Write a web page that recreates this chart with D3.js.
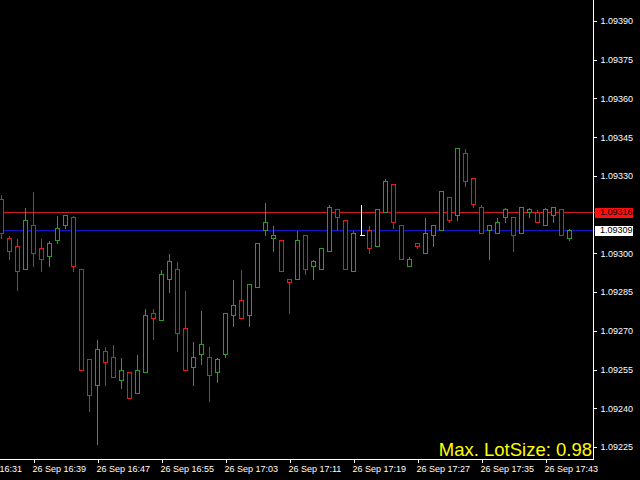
<!DOCTYPE html>
<html>
<head>
<meta charset="utf-8">
<script src="https://cdn.jsdelivr.net/npm/d3@7"></script>
<style>
  html, body { margin: 0; padding: 0; background: #000; }
  svg { display: block; }
  text { font-family: "Liberation Sans", Arial, sans-serif; }
</style>
</head>
<body>
<svg id="chart" width="640" height="480"></svg>
<script>
// ---- data (M1 bars, 26 Sep 16:35 .. 17:46) ----
const barTimes = ["16:35","16:36","16:37","16:38","16:39","16:40","16:41","16:42","16:43","16:44",
  "16:45","16:46","16:47","16:48","16:49","16:50","16:51","16:52","16:53","16:54",
  "16:55","16:56","16:57","16:58","16:59","17:00","17:01","17:02","17:03","17:04",
  "17:05","17:06","17:07","17:08","17:09","17:10","17:11","17:12","17:13","17:14",
  "17:15","17:16","17:17","17:18","17:19","17:20","17:21","17:22","17:23","17:24",
  "17:25","17:26","17:27","17:28","17:29","17:30","17:31","17:32","17:33","17:34",
  "17:35","17:36","17:37","17:38","17:39","17:40","17:41","17:42","17:43","17:44",
  "17:45","17:46"];
const openP = [1.09321,1.09306,1.09303,1.09294,1.09311,1.09302,1.09299,1.09305,1.09311,1.09314,
  1.09294,1.09259,1.09249,1.09262,1.09260,1.09251,1.09254,1.09246,1.09254,1.09277,
  1.09274,1.09290,1.09294,1.09271,1.09256,1.09261,1.09260,1.09254,1.09261,1.09276,
  1.09282,1.09276,1.09287,1.09309,1.09306,1.09305,1.09290,1.09290,1.09307,1.09295,
  1.09294,1.09301,1.09317,1.09313,1.09293,1.09307,1.09309,1.09303,1.09316,1.09327,
  1.09311,1.09295,1.09304,1.09300,1.09307,1.09309,1.09322,1.09315,1.09339,1.09329,
  1.09318,1.09309,1.09308,1.09314,1.09314,1.09308,1.09316,1.09316,1.09311,1.09315,
  1.09317,1.09306];
const highP = [1.09323,1.09307,1.09306,1.09318,1.09324,1.09306,1.09305,1.09315,1.09315,1.09315,
  1.09294,1.09259,1.09267,1.09264,1.09265,1.09260,1.09254,1.09261,1.09279,1.09279,
  1.09294,1.09300,1.09297,1.09286,1.09266,1.09278,1.09264,1.09260,1.09277,1.09290,
  1.09294,1.09288,1.09304,1.09320,1.09311,1.09305,1.09290,1.09309,1.09307,1.09298,
  1.09302,1.09319,1.09317,1.09313,1.09309,1.09319,1.09311,1.09317,1.09329,1.09327,
  1.09311,1.09299,1.09304,1.09314,1.09311,1.09324,1.09322,1.09341,1.09341,1.09329,
  1.09319,1.09311,1.09314,1.09318,1.09314,1.09318,1.09318,1.09317,1.09318,1.09318,
  1.09317,1.09310];
const lowP = [1.09306,1.09298,1.09286,1.09294,1.09295,1.09293,1.09295,1.09304,1.09310,1.09293,
  1.09255,1.09239,1.09226,1.09249,1.09252,1.09248,1.09244,1.09246,1.09254,1.09267,
  1.09274,1.09285,1.09262,1.09255,1.09249,1.09257,1.09243,1.09250,1.09260,1.09272,
  1.09275,1.09272,1.09287,1.09307,1.09301,1.09293,1.09277,1.09290,1.09292,1.09290,
  1.09294,1.09301,1.09309,1.09294,1.09293,1.09307,1.09300,1.09303,1.09316,1.09310,
  1.09298,1.09295,1.09302,1.09300,1.09303,1.09309,1.09312,1.09313,1.09326,1.09318,
  1.09308,1.09298,1.09308,1.09312,1.09301,1.09308,1.09314,1.09312,1.09311,1.09312,
  1.09307,1.09305];
const closeP = [1.09308,1.09301,1.09293,1.09313,1.09300,1.09298,1.09304,1.09310,1.09315,1.09295,
  1.09255,1.09245,1.09263,1.09258,1.09252,1.09255,1.09244,1.09255,1.09276,1.09275,
  1.09292,1.09297,1.09269,1.09255,1.09260,1.09265,1.09253,1.09259,1.09277,1.09280,
  1.09275,1.09288,1.09304,1.09312,1.09307,1.09293,1.09289,1.09305,1.09294,1.09297,
  1.09302,1.09318,1.09314,1.09294,1.09308,1.09307,1.09302,1.09317,1.09328,1.09312,
  1.09298,1.09298,1.09303,1.09308,1.09311,1.09324,1.09313,1.09341,1.09328,1.09319,
  1.09308,1.09311,1.09312,1.09317,1.09307,1.09318,1.09317,1.09312,1.09317,1.09318,
  1.09307,1.09309];

// 1.09315 sits under the red price box in the reference, so it is not listed
const priceTicks = [1.09225,1.09240,1.09255,1.09270,1.09285,1.09300,1.09330,1.09345,1.09360,1.09375,1.09390];
const timeTickIdx = [-4, 4, 12, 20, 28, 36, 44, 52, 60, 68];
const timeTickLabels = ["26 Sep 16:31","26 Sep 16:39","26 Sep 16:47","26 Sep 16:55","26 Sep 17:03",
  "26 Sep 17:11","26 Sep 17:19","26 Sep 17:27","26 Sep 17:35","26 Sep 17:43"];
const redLevel = 1.09316;
const bidLevel = 1.09309;
const infoText = "Max. LotSize: 0.98";

// ---- layout ----
const W = 640, H = 480;
const plotRight = 593.5, plotBottom = 459.5;
const bullColor = "#2c9a2c", bearColor = "#e31b1b", dojiColor = "#ffffff";

const svg = d3.select("#chart");
svg.append("rect").attr("width", W).attr("height", H).attr("fill", "#000");

const x = d3.scaleLinear().domain([0, barTimes.length - 1]).range([1.5, 1.5 + 8 * (barTimes.length - 1)]);
const y = d3.scaleLinear().domain([1.09225, 1.09390]).range([447, 21]);
const yc = v => Math.round(y(v)) + 0.5;

const bars = barTimes.map((t, i) => ({ t, i, o: openP[i], h: highP[i], l: lowP[i], c: closeP[i] }));
const colorOf = d => d.c > d.o ? bullColor : (d.c < d.o ? bearColor : dojiColor);

const plot = svg.append("g").attr("shape-rendering", "crispEdges");

// horizontal level lines
plot.append("line").attr("x1", 0).attr("x2", plotRight + 2).attr("y1", yc(redLevel)).attr("y2", yc(redLevel))
  .attr("stroke", "#c81e1e").attr("stroke-width", 1);
plot.append("line").attr("x1", 0).attr("x2", plotRight + 2).attr("y1", yc(bidLevel)).attr("y2", yc(bidLevel))
  .attr("stroke", "#1414c8").attr("stroke-width", 1);

// candles
const g = plot.selectAll("g.bar").data(bars).join("g").attr("class", "bar");
g.append("line")
  .attr("x1", d => x(d.i)).attr("x2", d => x(d.i))
  .attr("y1", d => yc(d.h)).attr("y2", d => yc(d.l) + 0.5)
  .attr("stroke", colorOf);
g.filter(d => d.o !== d.c).append("rect")
  .attr("x", d => x(d.i) - 2).attr("width", 4)
  .attr("y", d => yc(Math.max(d.o, d.c)))
  .attr("height", d => Math.max(1, yc(Math.min(d.o, d.c)) - yc(Math.max(d.o, d.c))))
  .attr("fill", "#000").attr("stroke", colorOf);
g.filter(d => d.o === d.c).append("line")
  .attr("x1", d => x(d.i) - 2).attr("x2", d => x(d.i) + 3)
  .attr("y1", d => yc(d.o)).attr("y2", d => yc(d.o))
  .attr("stroke", dojiColor);

// frame lines
svg.append("line").attr("x1", plotRight).attr("x2", plotRight).attr("y1", 0).attr("y2", plotBottom)
  .attr("stroke", "#fff").attr("shape-rendering", "crispEdges");
svg.append("line").attr("x1", 0).attr("x2", plotRight).attr("y1", plotBottom).attr("y2", plotBottom)
  .attr("stroke", "#fff").attr("shape-rendering", "crispEdges");

// right price axis
const yAxis = d3.axisRight(y).tickValues(priceTicks).tickSize(3).tickPadding(4)
  .tickFormat(d3.format(".5f"));
const ya = svg.append("g").attr("transform", `translate(${plotRight},0)`).call(yAxis);
ya.select(".domain").remove();
ya.selectAll(".tick line").attr("stroke", "#fff").attr("shape-rendering", "crispEdges");
ya.selectAll(".tick text").attr("fill", "#fff").attr("font-size", "9px")
  .attr("font-family", "'Liberation Sans', Arial, sans-serif");

// bottom time axis
const xAxis = d3.axisBottom(x).tickValues(timeTickIdx).tickSize(3).tickPadding(3)
  .tickFormat((d, k) => timeTickLabels[k]);
const xa = svg.append("g").attr("transform", `translate(0,${plotBottom})`).call(xAxis);
xa.select(".domain").remove();
xa.selectAll(".tick line").attr("stroke", "#fff").attr("shape-rendering", "crispEdges");
xa.selectAll(".tick text").attr("fill", "#fff").attr("font-size", "9px")
  .attr("text-anchor", "start").attr("dx", "-1.5")
  .attr("font-family", "'Liberation Sans', Arial, sans-serif");

// price labels on axis
function priceBox(v, bg) {
  const cy = y(v);
  svg.append("rect").attr("x", 595).attr("y", Math.round(cy) - 4.5).attr("width", 38).attr("height", 10)
    .attr("fill", bg).attr("shape-rendering", "crispEdges");
  svg.append("text").attr("x", 600).attr("y", cy).attr("dy", "0.34em")
    .attr("font-size", "9px").attr("fill", "#000").text(d3.format(".5f")(v));
}
priceBox(redLevel, "#ff1010");
priceBox(bidLevel, "#ffffff");

// info text
svg.append("text").attr("x", 592).attr("y", 456).attr("text-anchor", "end")
  .attr("font-size", "18.5px").attr("fill", "#ffff00").text(infoText);
</script>
</body>
</html>
